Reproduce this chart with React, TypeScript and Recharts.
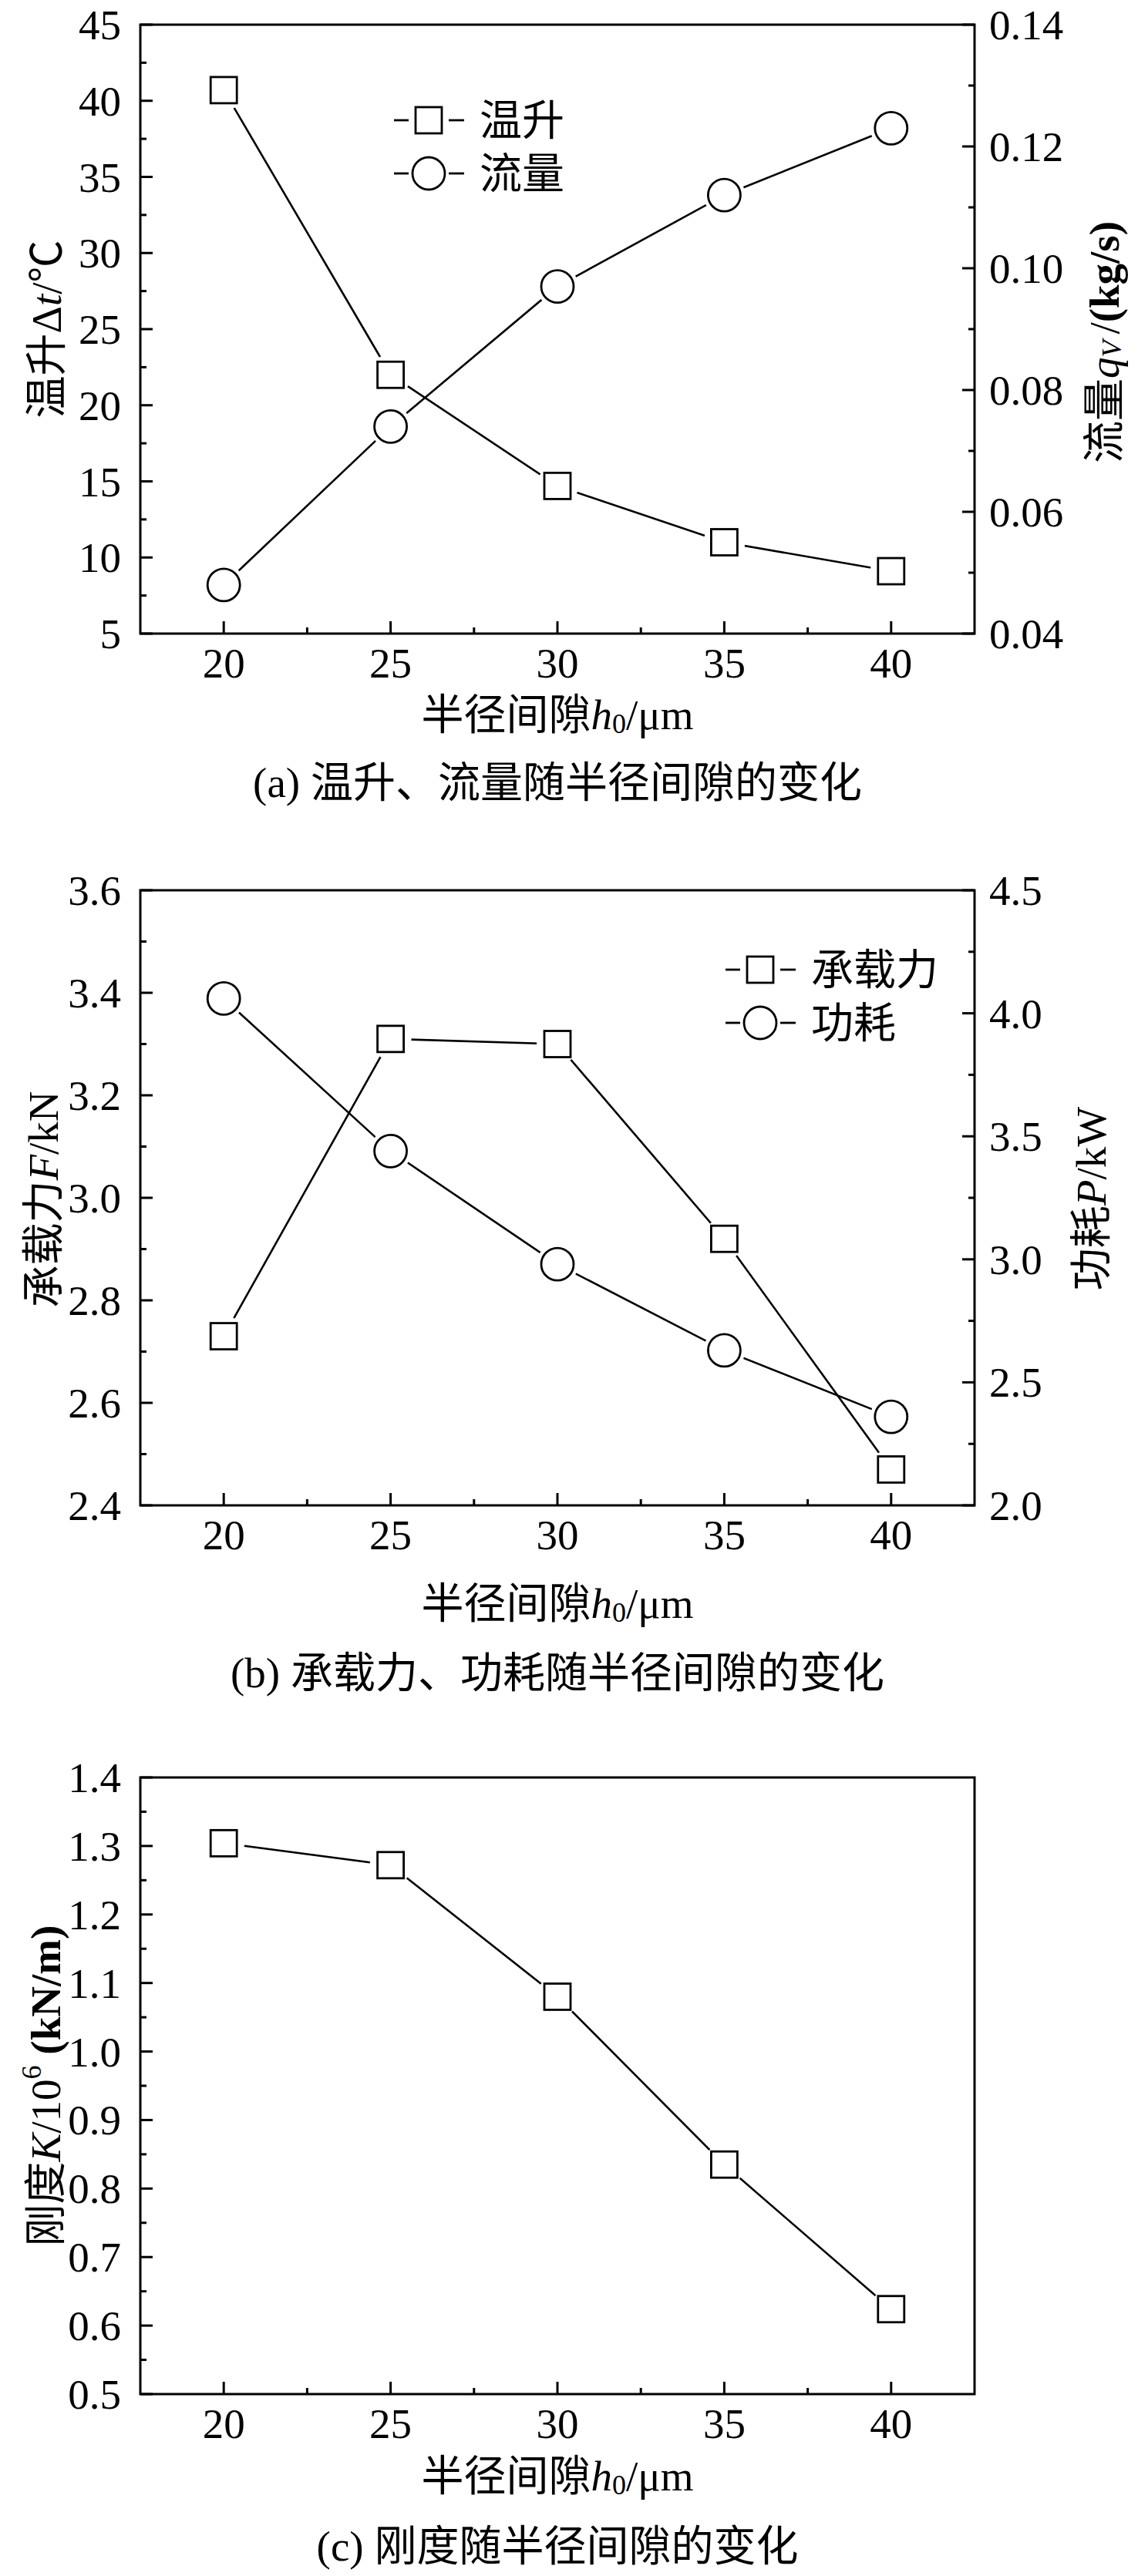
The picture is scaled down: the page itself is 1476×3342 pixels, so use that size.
import React from "react";
import { LineChart, Line, XAxis, YAxis, ReferenceArea, Legend } from "recharts";

// x: radial clearance h0 (μm)
const H0 = [20, 25, 30, 35, 40];
const X_MAJOR = [20, 25, 30, 35, 40];
const X_MINOR = [22.5, 27.5, 32.5, 37.5];

// (a) temperature rise (°C) and flow (kg/s)
const TEMP_RISE = [40.7, 22.0, 14.7, 11.0, 9.1];
const FLOW = [0.048, 0.074, 0.097, 0.112, 0.123];
// (b) load capacity (kN) and power loss (kW)
const LOAD = [2.73, 3.31, 3.3, 2.92, 2.47];
const POWER = [4.06, 3.44, 2.98, 2.63, 2.36];
// (c) stiffness (10^6 kN/m)
const STIFFNESS = [1.304, 1.272, 1.08, 0.835, 0.624];

const TEMP_MAJOR = [5, 10, 15, 20, 25, 30, 35, 40, 45];
const TEMP_MINOR = [7.5, 12.5, 17.5, 22.5, 27.5, 32.5, 37.5, 42.5];
const FLOW_MAJOR = [0.04, 0.06, 0.08, 0.1, 0.12, 0.14];
const FLOW_MINOR = [0.05, 0.07, 0.09, 0.11, 0.13];
const LOAD_MAJOR = [2.4, 2.6, 2.8, 3.0, 3.2, 3.4, 3.6];
const LOAD_MINOR = [2.5, 2.7, 2.9, 3.1, 3.3, 3.5];
const POWER_MAJOR = [2.0, 2.5, 3.0, 3.5, 4.0, 4.5];
const POWER_MINOR = [2.25, 2.75, 3.25, 3.75, 4.25];
const STIFF_MAJOR = [0.5, 0.6, 0.7, 0.8, 0.9, 1.0, 1.1, 1.2, 1.3, 1.4];
const STIFF_MINOR = [0.55, 0.65, 0.75, 0.85, 0.95, 1.05, 1.15, 1.25, 1.35];

const FONT = '"Liberation Serif", "Times New Roman", "Noto Sans CJK SC", serif';
const FS = 55;
const W = 1476;
const PLOT_L = 182;
const PLOT_R = 1264;
const MID_X = (PLOT_L + PLOT_R) / 2;

const dataA = H0.map((h, i) => ({ h0: h, temp: TEMP_RISE[i], flow: FLOW[i] }));
const dataB = H0.map((h, i) => ({ h0: h, load: LOAD[i], power: POWER[i] }));
const dataC = H0.map((h, i) => ({ h0: h, stiff: STIFFNESS[i] }));

const near = (list: number[], v: number) => list.some(m => Math.abs(m - v) < 1e-9);
const merge = (a: number[], b: number[]) => [...a, ...b].sort((p, q) => p - q);

function XTick(props: any) {
  const { x, y, payload } = props;
  const major = near(X_MAJOR, payload.value);
  return (
    <g>
      <line x1={x} x2={x} y1={y} y2={y - (major ? 16 : 8)} stroke="#000" strokeWidth={3} />
      {major && (
        <text x={x} y={y + 57} textAnchor="middle" fontSize={FS} fill="#000">{payload.value}</text>
      )}
    </g>
  );
}

function makeYTick(side: "left" | "right", majors: number[], digits: number) {
  return (props: any) => {
    const { x, y, payload } = props;
    const major = near(majors, payload.value);
    const dir = side === "left" ? 1 : -1;
    return (
      <g>
        <line x1={x} x2={x + dir * (major ? 16 : 8)} y1={y} y2={y} stroke="#000" strokeWidth={3} />
        {major && (
          <text
            x={side === "left" ? x - 25 : x + 19}
            y={y + 19}
            textAnchor={side === "left" ? "end" : "start"}
            fontSize={FS}
            fill="#000"
          >
            {payload.value.toFixed(digits)}
          </text>
        )}
      </g>
    );
  };
}

function SquareMark({ cx, cy }: { cx: number; cy: number }) {
  return <rect x={cx - 17} y={cy - 17} width={34} height={34} fill="#fff" stroke="#000" strokeWidth={2.8} />;
}
function CircleMark({ cx, cy }: { cx: number; cy: number }) {
  return <circle cx={cx} cy={cy} r={21} fill="#fff" stroke="#000" strokeWidth={2.8} />;
}

function squareDot(props: any) {
  const { cx, cy, index } = props;
  if (cx == null || cy == null) return <g key={`s${index}`} />;
  return (
    <g key={`s${index}`}>
      <circle cx={cx} cy={cy} r={27} fill="#fff" />
      <SquareMark cx={cx} cy={cy} />
    </g>
  );
}
function circleDot(props: any) {
  const { cx, cy, index } = props;
  if (cx == null || cy == null) return <g key={`c${index}`} />;
  return (
    <g key={`c${index}`}>
      <circle cx={cx} cy={cy} r={27} fill="#fff" />
      <CircleMark cx={cx} cy={cy} />
    </g>
  );
}

const MARK_KIND: Record<string, string> = { temp: "square", flow: "circle", load: "square", power: "circle" };
const LEGEND_ORDER = ["temp", "flow", "load", "power"];

function legendContent(props: any) {
  const items = [...(props.payload || [])].sort(
    (a: any, b: any) => LEGEND_ORDER.indexOf(a.dataKey) - LEGEND_ORDER.indexOf(b.dataKey)
  );
  return (
    <div style={{ display: "flex", flexDirection: "column" }}>
      {items.map((e: any) => (
        <div key={e.dataKey} style={{ display: "flex", alignItems: "center", height: 69 }}>
          <svg width={100} height={50} style={{ display: "block" }}>
            <line x1={0} x2={19} y1={25} y2={25} stroke="#000" strokeWidth={2.8} />
            <line x1={71} x2={91} y1={25} y2={25} stroke="#000" strokeWidth={2.8} />
            {MARK_KIND[e.dataKey] === "square" ? <SquareMark cx={45} cy={25} /> : <CircleMark cx={45} cy={25} />}
          </svg>
          <span style={{ marginLeft: 11, fontSize: FS, lineHeight: 1, fontFamily: FONT, color: "#000" }}>{e.value}</span>
        </div>
      ))}
    </div>
  );
}

function BottomTitles({ titleY, captionY, caption }: { titleY: number; captionY: number; caption: string }) {
  return (
    <g>
      <text x={MID_X} y={titleY} textAnchor="middle" dominantBaseline="central" fontSize={FS} fill="#000">
        半径间隙<tspan fontStyle="italic">h</tspan>
        <tspan fontSize={36} dy={12}>0</tspan>
        <tspan dy={-12}>/μm</tspan>
      </text>
      <text x={MID_X} y={captionY} textAnchor="middle" dominantBaseline="central" fontSize={FS} fill="#000">
        {caption}
      </text>
    </g>
  );
}

function SideTitle({ cx, cy, children }: { cx: number; cy: number; children: React.ReactNode }) {
  return (
    <text
      x={cx}
      y={cy}
      transform={`rotate(-90, ${cx}, ${cy})`}
      textAnchor="middle"
      dominantBaseline="central"
      fontSize={FS}
      fill="#000"
    >
      {children}
    </text>
  );
}

export default function App() {
  return (
    <div style={{ position: "absolute", left: 0, top: 0, width: W, height: 3342, background: "#fff", fontFamily: FONT }}>
      {/* (a) */}
      <div style={{ position: "absolute", left: 0, top: 0 }}>
        <LineChart width={W} height={1100} data={dataA} margin={{ top: 32, right: 0, bottom: 0, left: 0 }}>
          <XAxis
            dataKey="h0"
            type="number"
            domain={[17.5, 42.5]}
            ticks={merge(X_MAJOR, X_MINOR)}
            interval={0}
            height={278}
            axisLine={false}
            tickLine={false}
            tickSize={0}
            tickMargin={0}
            tick={XTick}
            label={<BottomTitles titleY={927} captionY={1015} caption="(a) 温升、流量随半径间隙的变化" />}
          />
          <YAxis
            yAxisId="left"
            type="number"
            domain={[5, 45]}
            ticks={merge(TEMP_MAJOR, TEMP_MINOR)}
            interval={0}
            allowDataOverflow
            width={PLOT_L}
            axisLine={false}
            tickLine={false}
            tickSize={0}
            tickMargin={0}
            tick={makeYTick("left", TEMP_MAJOR, 0)}
            label={
              <SideTitle cx={60} cy={427}>
                温升Δ<tspan fontStyle="italic">t</tspan>/℃
              </SideTitle>
            }
          />
          <YAxis
            yAxisId="right"
            orientation="right"
            type="number"
            domain={[0.04, 0.14]}
            ticks={merge(FLOW_MAJOR, FLOW_MINOR)}
            interval={0}
            allowDataOverflow
            width={W - PLOT_R}
            axisLine={false}
            tickLine={false}
            tickSize={0}
            tickMargin={0}
            tick={makeYTick("right", FLOW_MAJOR, 2)}
            label={
              <SideTitle cx={1432} cy={444}>
                流量<tspan fontStyle="italic">q</tspan>
                <tspan fontStyle="italic" fontSize={36} dy={10}>V</tspan>
                <tspan dy={-10} dx={8}>/</tspan>
                <tspan fontWeight="bold">(kg/s)</tspan>
              </SideTitle>
            }
          />
          <ReferenceArea yAxisId="left" x1={17.5} x2={42.5} y1={5} y2={45} fill="none" stroke="#000" strokeWidth={3} ifOverflow="visible" />
          <Line yAxisId="left" type="linear" dataKey="temp" name="温升" stroke="#000" strokeWidth={2.6} dot={squareDot} activeDot={false} isAnimationActive={false} />
          <Line yAxisId="right" type="linear" dataKey="flow" name="流量" stroke="#000" strokeWidth={2.6} dot={circleDot} activeDot={false} isAnimationActive={false} />
          <Legend
            layout="horizontal"
            verticalAlign="middle"
            align="center"
            width={400}
            content={legendContent}
            wrapperStyle={{ left: 511, top: 121.5, width: 400 }}
          />
        </LineChart>
      </div>

      {/* (b) */}
      <div style={{ position: "absolute", left: 0, top: 1100 }}>
        <LineChart width={W} height={1142} data={dataB} margin={{ top: 55, right: 0, bottom: 0, left: 0 }}>
          <XAxis
            dataKey="h0"
            type="number"
            domain={[17.5, 42.5]}
            ticks={merge(X_MAJOR, X_MINOR)}
            interval={0}
            height={1142 - 853}
            axisLine={false}
            tickLine={false}
            tickSize={0}
            tickMargin={0}
            tick={XTick}
            label={<BottomTitles titleY={980} captionY={1070} caption="(b) 承载力、功耗随半径间隙的变化" />}
          />
          <YAxis
            yAxisId="left"
            type="number"
            domain={[2.4, 3.6]}
            ticks={merge(LOAD_MAJOR, LOAD_MINOR)}
            interval={0}
            allowDataOverflow
            width={PLOT_L}
            axisLine={false}
            tickLine={false}
            tickSize={0}
            tickMargin={0}
            tick={makeYTick("left", LOAD_MAJOR, 1)}
            label={
              <SideTitle cx={56} cy={456}>
                承载力<tspan fontStyle="italic">F</tspan>/kN
              </SideTitle>
            }
          />
          <YAxis
            yAxisId="right"
            orientation="right"
            type="number"
            domain={[2.0, 4.5]}
            ticks={merge(POWER_MAJOR, POWER_MINOR)}
            interval={0}
            allowDataOverflow
            width={W - PLOT_R}
            axisLine={false}
            tickLine={false}
            tickSize={0}
            tickMargin={0}
            tick={makeYTick("right", POWER_MAJOR, 1)}
            label={
              <SideTitle cx={1415} cy={455}>
                功耗<tspan fontStyle="italic">P</tspan>/kW
              </SideTitle>
            }
          />
          <ReferenceArea yAxisId="left" x1={17.5} x2={42.5} y1={2.4} y2={3.6} fill="none" stroke="#000" strokeWidth={3} ifOverflow="visible" />
          <Line yAxisId="left" type="linear" dataKey="load" name="承载力" stroke="#000" strokeWidth={2.6} dot={squareDot} activeDot={false} isAnimationActive={false} />
          <Line yAxisId="right" type="linear" dataKey="power" name="功耗" stroke="#000" strokeWidth={2.6} dot={circleDot} activeDot={false} isAnimationActive={false} />
          <Legend
            layout="horizontal"
            verticalAlign="middle"
            align="center"
            width={450}
            content={legendContent}
            wrapperStyle={{ left: 941, top: 123.5, width: 450 }}
          />
        </LineChart>
      </div>

      {/* (c) */}
      <div style={{ position: "absolute", left: 0, top: 2242 }}>
        <LineChart width={W} height={1100} data={dataC} margin={{ top: 64, right: W - PLOT_R, bottom: 0, left: 0 }}>
          <XAxis
            dataKey="h0"
            type="number"
            domain={[17.5, 42.5]}
            ticks={merge(X_MAJOR, X_MINOR)}
            interval={0}
            height={1100 - 864}
            axisLine={false}
            tickLine={false}
            tickSize={0}
            tickMargin={0}
            tick={XTick}
            label={<BottomTitles titleY={970} captionY={1061} caption="(c) 刚度随半径间隙的变化" />}
          />
          <YAxis
            yAxisId="left"
            type="number"
            domain={[0.5, 1.4]}
            ticks={merge(STIFF_MAJOR, STIFF_MINOR)}
            interval={0}
            allowDataOverflow
            width={PLOT_L}
            axisLine={false}
            tickLine={false}
            tickSize={0}
            tickMargin={0}
            tick={makeYTick("left", STIFF_MAJOR, 1)}
            label={
              <SideTitle cx={59} cy={464}>
                刚度<tspan fontStyle="italic">K</tspan>/10
                <tspan fontSize={36} dy={-18}>6</tspan>
                <tspan dy={18}> </tspan>
                <tspan fontWeight="bold">(kN/m)</tspan>
              </SideTitle>
            }
          />
          <ReferenceArea yAxisId="left" x1={17.5} x2={42.5} y1={0.5} y2={1.4} fill="none" stroke="#000" strokeWidth={3} ifOverflow="visible" />
          <Line yAxisId="left" type="linear" dataKey="stiff" name="刚度" stroke="#000" strokeWidth={2.6} dot={squareDot} activeDot={false} isAnimationActive={false} />
        </LineChart>
      </div>
    </div>
  );
}
